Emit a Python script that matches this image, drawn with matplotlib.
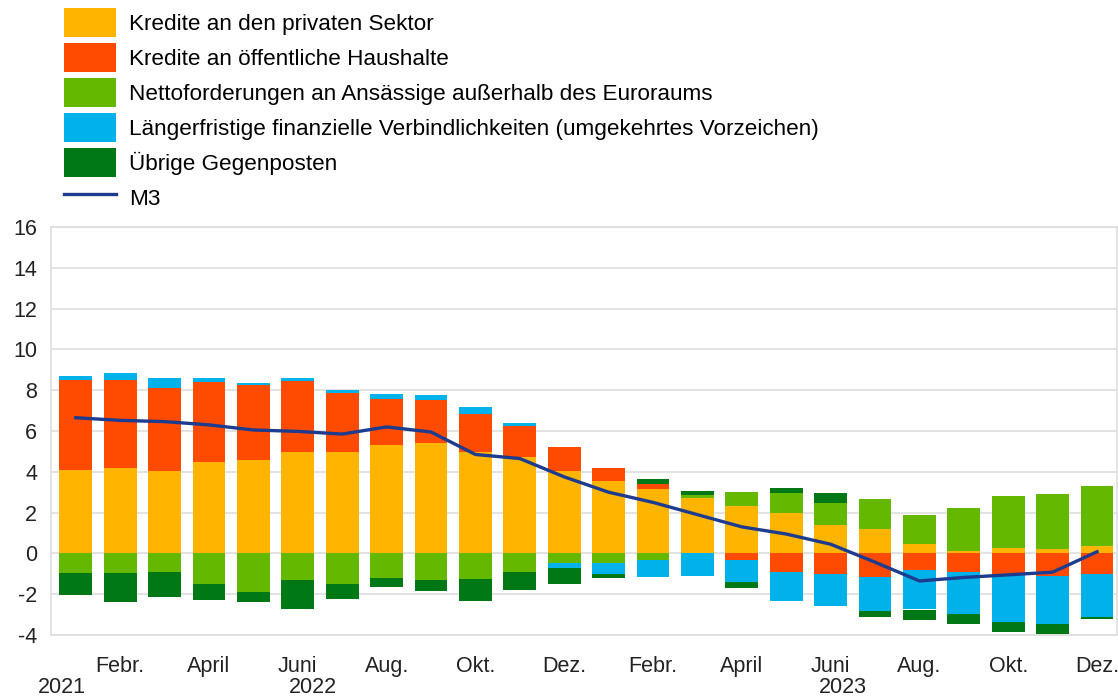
import numpy as np
import matplotlib
matplotlib.use("Agg")
import matplotlib.pyplot as plt
from matplotlib.patches import Patch
from matplotlib.lines import Line2D

plt.rcParams['font.family'] = ['Liberation Sans', 'DejaVu Sans']
plt.rcParams['axes.unicode_minus'] = False

# %%
# contributions to M3 growth, monthly, Jan 2022 - Dec 2023 (percentage points)
months = ['Jan', 'Febr.', 'März', 'April', 'Mai', 'Juni', 'Juli', 'Aug.', 'Sept.', 'Okt.', 'Nov.', 'Dez.'] * 2
tick_names = ['Febr.', 'April', 'Juni', 'Aug.', 'Okt.', 'Dez.'] * 2
year_labels = ['2021', '2022', '2023']
year_pos = [-0.32, 5.34, 17.27]

private = [4.10, 4.18, 4.02, 4.50, 4.59, 4.98, 4.95, 5.31, 5.43, 4.96, 4.74, 4.04,
           3.57, 3.15, 2.70, 2.30, 2.00, 1.39, 1.18, 0.46, 0.13, 0.28, 0.20, 0.36]
govt = [4.40, 4.32, 4.11, 3.92, 3.65, 3.47, 2.89, 2.28, 2.08, 1.88, 1.52, 1.18,
        0.64, 0.26, 0.00, -0.33, -0.90, -1.02, -1.15, -0.82, -0.90, -1.02, -1.11, -1.02]
ext = [-0.94, -0.98, -0.91, -1.51, -1.87, -1.31, -1.51, -1.20, -1.28, -1.25, -0.93, -0.46,
       -0.46, -0.33, 0.15, 0.70, 0.98, 1.07, 1.51, 1.43, 2.12, 2.54, 2.72, 2.92]
ltfl = [0.20, 0.36, 0.49, 0.20, 0.10, 0.17, 0.17, 0.20, 0.24, 0.34, 0.14, -0.24,
        -0.55, -0.85, -1.10, -1.06, -1.43, -1.56, -1.67, -1.93, -2.05, -2.34, -2.37, -2.09]
other = [-1.09, -1.41, -1.24, -0.77, -0.52, -1.43, -0.74, -0.47, -0.56, -1.08, -0.87, -0.78,
         -0.20, 0.25, 0.23, -0.33, 0.22, 0.52, -0.29, -0.53, -0.53, -0.49, -0.45, -0.12]
m3 = [6.65, 6.52, 6.46, 6.30, 6.05, 5.98, 5.85, 6.20, 5.95, 4.85, 4.65, 3.75,
      3.00, 2.50, 1.90, 1.30, 0.95, 0.45, -0.43, -1.35, -1.18, -1.05, -0.92, 0.08]

names = ['Kredite an den privaten Sektor',
         'Kredite an öffentliche Haushalte',
         'Nettoforderungen an Ansässige außerhalb des Euroraums',
         'Längerfristige finanzielle Verbindlichkeiten (umgekehrtes Vorzeichen)',
         'Übrige Gegenposten']
colors = ['#FFB400', '#FF4B00', '#65B800', '#00B1EA', '#007816']
line_color = '#1d3c8f'
fs = 15.5

# %%
fig = plt.figure(figsize=(11.18, 6.98), dpi=100)
ax = fig.add_axes([51/1118, 1 - 635/698, 1066/1118, 408/698])

x = np.arange(len(m3))
pos_base = np.zeros(len(x))
neg_base = np.zeros(len(x))
for vals, c in zip([private, govt, ext, ltfl, other], colors):
    v = np.array(vals)
    base = np.where(v >= 0, pos_base, neg_base)
    ax.bar(x, v, bottom=base, width=0.74, color=c, zorder=2)
    pos_base += np.clip(v, 0, None)
    neg_base += np.clip(v, None, 0)

ax.plot(x, m3, color=line_color, lw=2.4, zorder=3)

ax.set_xlim(-0.56, 23.45)
ax.set_ylim(-4, 16)
ax.set_yticks(np.arange(-4, 17, 2))
ax.grid(axis='y', color='#dedede', lw=1.2, zorder=0)
for s in ax.spines.values():
    s.set_color('#dedede')
    s.set_linewidth(1.2)

ax.set_xticks(x[1::2])
ax.set_xticklabels(tick_names)
ax.tick_params(axis='both', length=0, labelsize=fs, colors='#222222')
ax.tick_params(axis='x', pad=15)
ax.tick_params(axis='y', pad=10)

for lab, p in zip(year_labels, year_pos):
    ax.text(p, -6.05, lab, ha='center', va='top', fontsize=fs, color='#222222')

handles = [Patch(facecolor=c) for c in colors] + [Line2D([], [], color=line_color, lw=2.4)]
fig.legend(handles, names + ['M3'], loc='upper left', bbox_to_anchor=(64/1118, 1 - 8/698),
           frameon=False, fontsize=16.2, handlelength=2.3, handleheight=1.6,
           labelspacing=0.27, handletextpad=0.6, borderpad=0, borderaxespad=0)

fig.savefig('out.png', dpi=100)
